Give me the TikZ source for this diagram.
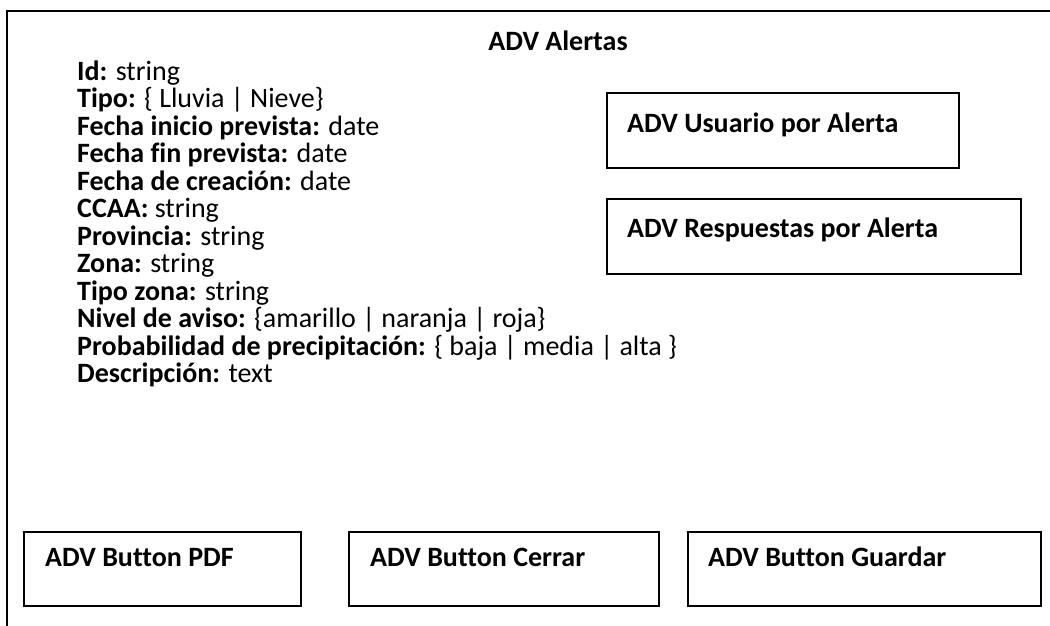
\documentclass[tikz,border=0pt]{standalone}
\usepackage{fontspec}
\setmainfont{Carlito}[Ligatures=NoCommon]
\usetikzlibrary{calc}
\begin{document}
\begin{tikzpicture}[x=1pt,y=-1pt,
  frame/.style={draw=black,line width=1.6pt},
  box/.style={draw=black,line width=1.6pt,rectangle,inner sep=0pt,anchor=north west},
  lbl/.style={anchor=base west,inner sep=0pt,font=\fontsize{28}{28}\selectfont\bfseries},
  attr/.style={anchor=base west,inner sep=0pt,font=\fontsize{28}{28}\selectfont}]
\clip (0,0) rectangle (1050,625);
\useasboundingbox (0,0) rectangle (1050,625);
% outer frame (right and bottom edges fall outside)
\draw[frame] (7,660) -- (7,11) -- (1080,11);
\node[lbl,anchor=base] (title) at (558,50) {ADV Alertas};
% attributes
\node[attr] (a1) at (77,80) {\textbf{Id:} string};
\node[attr] (a2) at (77,107.5) {\textbf{Tipo:} \{ Lluvia | Nieve\}};
\node[attr] (a3) at (77,135) {\textbf{Fecha inicio prevista:} date};
\node[attr] (a4) at (77,162.5) {\textbf{Fecha fin prevista:} date};
\node[attr] (a5) at (77,190) {\textbf{Fecha de creación:} date};
\node[attr] (a6) at (77,217.5) {\textbf{CCAA:} string};
\node[attr] (a7) at (77,245) {\textbf{Provincia:} string};
\node[attr] (a8) at (77,272.5) {\textbf{Zona:} string};
\node[attr] (a9) at (77,300) {\textbf{Tipo zona:} string};
\node[attr] (a10) at (77,327.5) {\textbf{Nivel de aviso:} \{amarillo | naranja | roja\}};
\node[attr] (a11) at (77,355) {\textbf{Probabilidad de precipitación:} \{ baja | media | alta \}};
\node[attr] (a12) at (77,382.5) {\textbf{Descripción:} text};
% side boxes
\node[box,minimum width=352,minimum height=75] (usr) at (606,92) {};
\node[lbl] (usrt) at ($(usr.north west)+(21,40)$) {ADV Usuario por Alerta};
\node[box,minimum width=414,minimum height=75] (resp) at (606,198) {};
\node[lbl] (respt) at ($(resp.north west)+(21,39)$) {ADV Respuestas por Alerta};
% buttons
\node[box,minimum width=277,minimum height=74] (pdf) at (23,531) {};
\node[lbl] (pdft) at ($(pdf.north west)+(22,35)$) {ADV Button PDF};
\node[box,minimum width=310,minimum height=74] (cer) at (348,531) {};
\node[lbl] (cert) at ($(cer.north west)+(22,35)$) {ADV Button Cerrar};
\node[box,minimum width=353,minimum height=74] (gua) at (687,531) {};
\node[lbl] (guat) at ($(gua.north west)+(21,35)$) {ADV Button Guardar};
\end{tikzpicture}
\end{document}
